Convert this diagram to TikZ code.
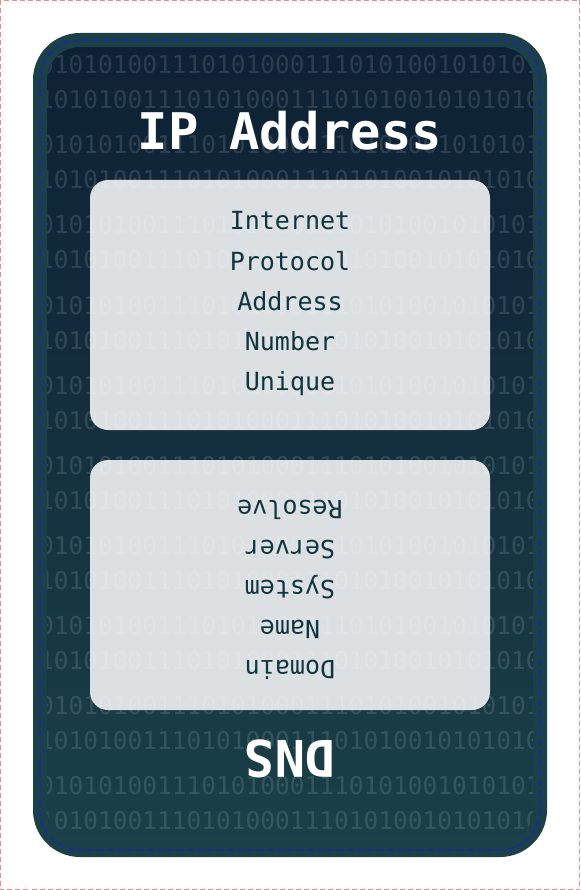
\documentclass[tikz,border=0pt]{standalone}
\usepackage{fontspec}
\newfontfamily\monof{DejaVu Sans Mono}
\definecolor{cardedge}{HTML}{1B4048}
\definecolor{cardtop}{HTML}{0E2035}
\definecolor{cardbot}{HTML}{1A4048}
\definecolor{boxfill}{HTML}{DCE0E3}
\definecolor{boxtext}{HTML}{0F3540}
\definecolor{bluedash}{HTML}{1A22C8}
\definecolor{reddash}{HTML}{F08A8A}
\tikzset{
  digitrow/.style={anchor=base west, inner sep=0pt, text=white, text opacity=0.13,
    font=\monof\fontsize{24.5}{24.5}\selectfont},
  infobox/.style={fill=boxfill, rounded corners=18pt, minimum width=400pt,
    minimum height=250pt, inner sep=0pt},
  boxline/.style={anchor=base, inner sep=0pt, text=boxtext,
    font=\monof\fontsize{25}{25}\selectfont},
  titletext/.style={anchor=base, inner sep=0pt, text=white,
    font=\monof\bfseries\fontsize{50.5}{50.5}\selectfont},
}
\begin{document}
\begin{tikzpicture}[x=1pt, y=-1pt]
\useasboundingbox (0,0) rectangle (580,890);
% outer dashed frame
\draw[reddash, line width=1pt, dash pattern=on 5pt off 3pt] (0.5,0.5) rectangle (579.5,889.5);
% card background
\shade[rounded corners=40pt, top color=cardtop, bottom color=cardbot] (40,40) rectangle (540,850);
% info boxes
\node[infobox] (ipbox) at (290,305) {};
\node[infobox] (dnsbox) at (290,585) {};
% binary background
\begin{scope}
\clip[rounded corners=33pt] (47,47) rectangle (533,843);
\foreach \i in {0,...,9}{
  \node[digitrow] (rowa\i) at (39,{74+80*\i}) {0101010011101010001110101001010101};
  \node[digitrow] (rowb\i) at (39,{109+80*\i}) {1010100111010100011101010010101010};
}
\end{scope}
% card border
\draw[cardedge, line width=14pt, rounded corners=40pt] (40,40) rectangle (540,850);
\draw[bluedash, line width=1.2pt, dash pattern=on 6pt off 4pt, rounded corners=40pt] (40,40) rectangle (540,850);
% top half
\node[titletext] (title) at (290,150) {IP Address};
\node[boxline] (t1) at (290,230) {Internet};
\node[boxline] (t2) at (290,270) {Protocol};
\node[boxline] (t3) at (290,310) {Address};
\node[boxline] (t4) at (290,350) {Number};
\node[boxline] (t5) at (290,390) {Unique};
% bottom half, upside down
\begin{scope}[rotate around={180:(290,445)}, transform shape]
\node[titletext] (dns) at (290,150) {DNS};
\node[boxline] (b1) at (290,230) {Domain};
\node[boxline] (b2) at (290,270) {Name};
\node[boxline] (b3) at (290,310) {System};
\node[boxline] (b4) at (290,350) {Server};
\node[boxline] (b5) at (290,390) {Resolve};
\end{scope}
\end{tikzpicture}
\end{document}
